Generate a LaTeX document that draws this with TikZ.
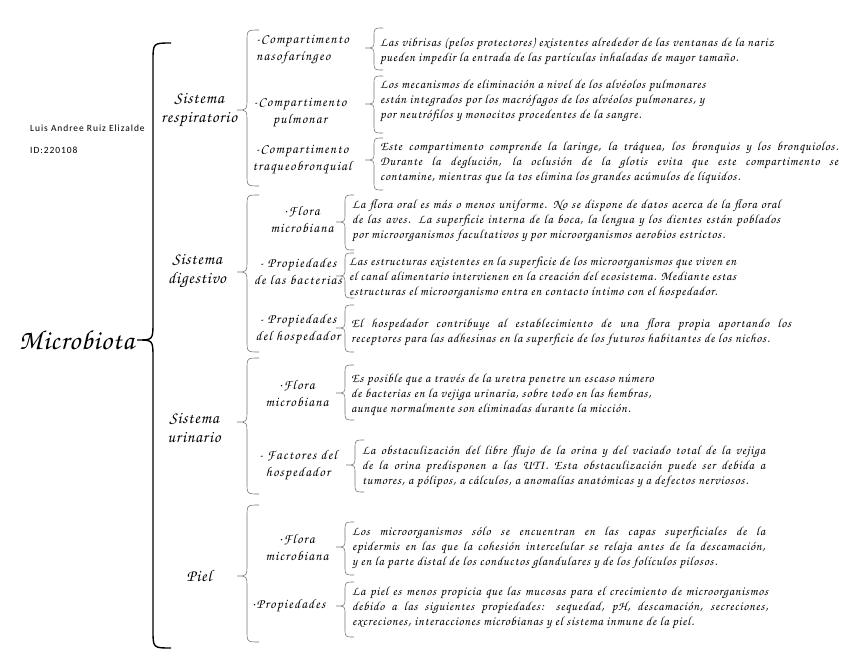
\documentclass[tikz,border=0pt]{standalone}
\usepackage{fontspec}
\setmainfont{TeX Gyre Chorus}
\newfontfamily\authorfont[LetterSpace=10]{Carlito}
\newfontfamily\bodyfont[LetterSpace=6]{TeX Gyre Chorus}
\newfontfamily\subfont[LetterSpace=9]{TeX Gyre Chorus}
\newfontfamily\sysfont[LetterSpace=5]{TeX Gyre Chorus}
\newfontfamily\rootfont[LetterSpace=3]{TeX Gyre Chorus}
\newcommand\mybrace[7][]{\draw[#1] ({#2+#7},#3) .. controls (#2,#3) .. (#2,{#3+#7}) -- (#2,{#5-#7}) .. controls (#2,#5) .. ({#2-#6},#5) .. controls (#2,#5) .. (#2,{#5+#7}) -- (#2,{#4-#7}) .. controls (#2,#4) .. ({#2+#7},#4);}
\newcommand\jl[2]{\makebox[#1pt][s]{#2}}
\begin{document}
\begin{tikzpicture}[x=1pt,y=-1pt,
  body/.style={anchor=west, inner sep=0pt, align=left, font=\bodyfont\fontsize{12.5}{15}\selectfont},
  sub/.style={inner sep=0pt, align=center, font=\subfont\fontsize{13.5}{17}\selectfont},
  sys/.style={inner sep=0pt, align=center, font=\sysfont\fontsize{16.5}{19}\selectfont},
  br/.style={draw=black!55, line width=0.6pt},
  bigbr/.style={draw=black, line width=1.4pt}]
\useasboundingbox (0,0) rectangle (848,655);

% root and author
\node[inner sep=0pt, anchor=east, font=\rootfont\fontsize{27.5}{30}\selectfont] (root) at (134,340) {Microbiota};
\node[inner sep=0pt, anchor=west, font=\authorfont\fontsize{9.5}{10}\selectfont] (author) at (30,128) {Luis Andree Ruiz Elizalde};
\node[inner sep=0pt, anchor=west, font=\authorfont\fontsize{9.5}{10}\selectfont] (id) at (30,150) {ID:220108};
\mybrace[bigbr]{153}{43}{648}{340}{16}{18}

% systems
\node[sys] (resp) at (199,110) {Sistema\\respiratorio};
\node[sys] (dig) at (197,271) {Sistema\\digestivo};
\node[sys] (uri) at (194,428) {Sistema\\urinario};
\node[sys] (piel) at (199,576) {Piel};
\mybrace[br]{247}{30}{186}{110}{10}{12}
\mybrace[br]{247}{195}{352}{272}{10}{12}
\mybrace[br]{247}{358}{494}{422}{10}{12}
\mybrace[br]{247}{505}{642}{576}{10}{12}

% respiratorio
\node[sub, anchor=west, align=left] (rs1) at (256,49) {-Compartimento\\nasofaríngeo};
\node[sub] (rs2) at (300,112) {-Compartimento\\pulmonar};
\node[sub] (rs3) at (302,159) {-Compartimento\\traqueobronquial};
\mybrace[br]{374}{28}{70}{48}{9}{9}
\mybrace[br]{374}{76}{133}{104}{9}{9}
\mybrace[br]{374}{138}{190}{160}{9}{9}
\node[body] (r1) at (380,51) {Las vibrisas (pelos protectores) existentes alrededor de las ventanas de la nariz\\pueden impedir la entrada de las partículas inhaladas de mayor tamaño.};
\node[body] (r2) at (380,101) {Los mecanismos de eliminación a nivel de los alvéolos pulmonares\\están integrados por los macrófagos de los alvéolos pulmonares, y\\por neutrófilos y monocitos procedentes de la sangre.};
\node[body] (r3) at (380,163) {\jl{458}{Este compartimento comprende la laringe, la tráquea, los bronquios y los bronquiolos.}\\\jl{458}{Durante la deglución, la oclusión de la glotis evita que este compartimento se}\\contamine, mientras que la tos elimina los grandes acúmulos de líquidos.};

% digestivo
\node[sub] (ds1) at (302,220) {·Flora\\microbiana};
\node[sub] (ds2) at (298,272) {- Propiedades\\de las bacterias};
\node[sub] (ds3) at (298,329) {- Propiedades\\del hospedador};
\mybrace[br]{345}{195}{250}{222}{9}{9}
\mybrace[br]{345}{253}{298}{276}{9}{9}
\mybrace[br]{345}{305}{352}{328}{9}{9}
\node[body] (d1) at (352,221) {\jl{428}{La flora oral es más o menos uniforme. No se dispone de datos acerca de la flora oral}\\\jl{428}{de las aves. La superficie interna de la boca, la lengua y los dientes están poblados}\\por microorganismos facultativos y por microorganismos aerobios estrictos.};
\node[body] (d2) at (349,278) {\jl{387}{Las estructuras existentes en la superficie de los microorganismos que viven en}\\\jl{387}{el canal alimentario intervienen en la creación del ecosistema. Mediante estas}\\estructuras el microorganismo entra en contacto íntimo con el hospedador.};
\node[body] (d3) at (351,332) {\jl{440}{El hospedador contribuye al establecimiento de una flora propia aportando los}\\receptores para las adhesinas en la superficie de los futuros habitantes de los nichos.};

% urinario
\node[sub] (us1) at (297,394) {·Flora\\microbiana};
\node[sub] (us2) at (298,465) {- Factores del\\hospedador};
\mybrace[br]{345}{365}{420}{393}{9}{9}
\mybrace[br]{355}{440}{492}{465}{9}{9}
\node[body] (u1) at (351,395) {Es posible que a través de la uretra penetre un escaso número\\de bacterias en la vejiga urinaria, sobre todo en las hembras,\\aunque normalmente son eliminadas durante la micción.};
\node[body] (u2) at (362,467) {\jl{403}{La obstaculización del libre flujo de la orina y del vaciado total de la vejiga}\\\jl{403}{de la orina predisponen a las UTI. Esta obstaculización puede ser debida a}\\tumores, a pólipos, a cálculos, a anomalías anatómicas y a defectos nerviosos.};

% piel
\node[sub] (ps1) at (297,548) {·Flora\\microbiana};
\node[sub] (ps2) at (289,606) {·Propiedades};
\mybrace[br]{345}{522}{575}{547}{9}{9}
\mybrace[br]{345}{582}{637}{606}{9}{9}
\node[body] (p1) at (352,548) {\jl{413}{Los microorganismos sólo se encuentran en las capas superficiales de la}\\\jl{413}{epidermis en las que la cohesión intercelular se relaja antes de la descamación,}\\y en la parte distal de los conductos glandulares y de los folículos pilosos.};
\node[body] (p2) at (352,608) {\jl{416}{La piel es menos propicia que las mucosas para el crecimiento de microorganismos}\\\jl{416}{debido a las siguientes propiedades: sequedad, pH, descamación, secreciones,}\\excreciones, interacciones microbianas y el sistema inmune de la piel.};
\end{tikzpicture}
\end{document}
